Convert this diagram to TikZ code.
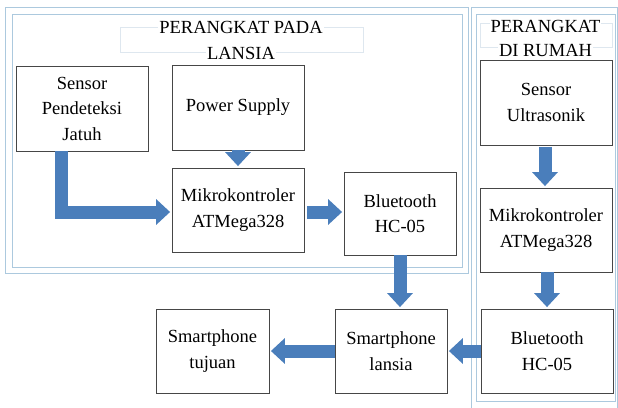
\documentclass[tikz,border=0pt]{standalone}
\usepackage{fontspec}
\setmainfont{Liberation Serif}
\usetikzlibrary{arrows.meta,calc}
\definecolor{arrowblue}{RGB}{74,126,187}
\definecolor{frameblue}{RGB}{172,201,222}
\definecolor{titlebox}{RGB}{222,231,239}
\definecolor{boxgray}{RGB}{70,70,70}
\tikzset{
  blk/.style={draw=boxgray,line width=0.8pt,rectangle,align=center,inner sep=0pt,
    font=\rmfamily\fontsize{18.5}{25.5}\selectfont},
  frameline/.style={draw=frameblue,line width=1pt},
  fat/.style={draw=arrowblue,line width=13pt,-{Triangle[length=14pt,width=25pt]},shorten >=1.5pt},
  ttl/.style={align=center,inner sep=1pt,fill=white,font=\rmfamily\fontsize{18.5}{25.5}\selectfont},
}
\begin{document}
\begin{tikzpicture}[x=1pt,y=-1pt]
\useasboundingbox (0,0) rectangle (618,407);
% frames
\draw[frameline] (5,7) rectangle (468,273);
\draw[frameline] (12,14) rectangle (462,267);
\draw[frameline] (471,7) -- (617,7) -- (617,410);
\draw[frameline] (471,7) -- (471,410);
\draw[frameline] (476,14) rectangle (615,401);
% title boxes
\draw[titlebox,line width=0.8pt] (120,27) rectangle (363,52);
\draw[titlebox,line width=0.8pt] (480,23) rectangle (612,47);
\node[ttl,anchor=base] (t1) at (241,33) {PERANGKAT PADA};
\node[ttl,anchor=base] (t1b) at (241,59) {LANSIA};
\node[ttl,anchor=base] (t2) at (545.5,32) {PERANGKAT};
\node[ttl,anchor=base] (t2b) at (545.5,56) {DI RUMAH};
% blocks
\node[blk,minimum width=132pt,minimum height=85pt] (sp) at (82,108.5) {Sensor\\Pendeteksi\\Jatuh};
\node[blk,minimum width=132pt,minimum height=85pt] (ps) at (238,107.5) {Power Supply};
\node[blk,minimum width=132pt,minimum height=84pt] (mk1) at (238,210) {Mikrokontroler\\ATMega328};
\node[blk,minimum width=112pt,minimum height=83pt] (bt1) at (400,213.5) {Bluetooth\\HC-05};
\node[blk,minimum width=132pt,minimum height=85pt] (su) at (546,102.5) {Sensor\\Ultrasonik};
\node[blk,minimum width=132pt,minimum height=84pt] (mk2) at (546,230) {Mikrokontroler\\ATMega328};
\node[blk,minimum width=132pt,minimum height=84pt] (bt2) at (547,351) {Bluetooth\\HC-05};
\node[blk,minimum width=112pt,minimum height=84pt] (sl) at (391,351) {Smartphone\\lansia};
\node[blk,minimum width=113pt,minimum height=84pt] (st) at (212.5,351) {Smartphone\\tujuan};
% arrows
\draw[fat] (ps.south) -- (mk1.north);
\draw[fat] ($(sp.south)+(-21,0)$) |- ($(mk1.west)+(0,2)$);
\draw[fat] ($(mk1.east)+(3,2)$) -- ($(bt1.west)+(0,-1.5)$);
\draw[fat] (bt1.south) -- (bt1.south |- sl.north);
\draw[fat] ($(su.south)+(-1,2)$) -- ($(mk2.north)+(-1,0)$);
\draw[fat] ($(mk2.south)+(1,0)$) -- ($(mk2.south |- bt2.north)+(1,0)$);
\draw[fat] (bt2.west) -- (sl.east);
\draw[fat] (sl.west) -- (st.east);
\end{tikzpicture}
\end{document}
